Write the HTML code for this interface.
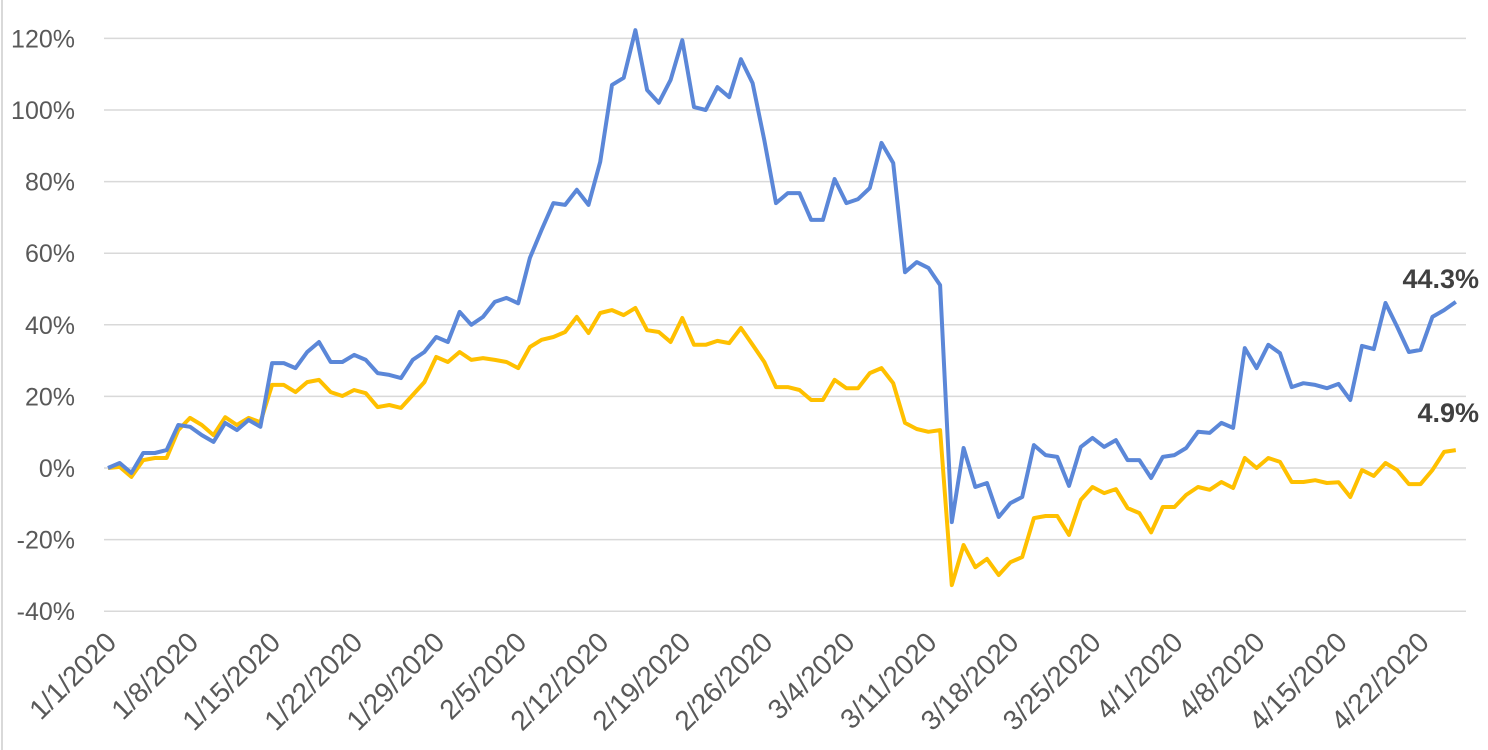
<!DOCTYPE html>
<html><head><meta charset="utf-8"><style>
html,body{margin:0;padding:0;background:#fff;}
svg{display:block;font-family:"Liberation Sans",sans-serif;}
</style></head><body>
<svg id="chart" width="1488" height="750" viewBox="0 0 1488 750">
<line x1="2" y1="0" x2="2" y2="750" stroke="#d9d9d9" stroke-width="2"/>
<g id="grid"></g>
<g id="yticks"></g>
<g id="xticks"></g>
<g id="series"></g>
<g id="endlabels"></g>
</svg>
<script>
const yTicks = [-40,-20,0,20,40,60,80,100,120];
const xTickLabels = ["1/1/2020","1/8/2020","1/15/2020","1/22/2020","1/29/2020","2/5/2020","2/12/2020","2/19/2020","2/26/2020","3/4/2020","3/11/2020","3/18/2020","3/25/2020","4/1/2020","4/8/2020","4/15/2020","4/22/2020"];
const blueValues = [0,1.4,-1.4,4.2,4.2,5,12,11.5,9.2,7.3,12.6,10.6,13.4,11.5,29.3,29.3,27.9,32.4,35.2,29.6,29.6,31.6,30.2,26.5,26,25.1,30.2,32.4,36.6,35.2,43.6,40,42.2,46.4,47.5,46,58.7,66.5,74,73.5,77.7,73.5,85.5,107,109,122.3,105.6,102,108.4,119.5,100.8,100,106.4,103.6,114.2,107.5,91.6,74,76.8,76.8,69.3,69.3,80.7,74,75.1,78.2,90.8,85.2,54.7,57.5,55.9,51.1,-15.1,5.6,-5.3,-4.2,-13.7,-9.8,-8.1,6.4,3.6,3.1,-5,5.9,8.4,5.9,7.8,2.2,2.2,-2.8,3.1,3.6,5.6,10.1,9.8,12.6,11.2,33.5,27.9,34.4,32.1,22.6,23.7,23.2,22.3,23.5,19,34.1,33.2,46.1,39.4,32.4,33,42.2,44.1,46.4];
const yellowValues = [0,0.3,-2.5,2.2,2.8,2.8,10.6,14,12,9.2,14.2,12,14,12.8,23.2,23.2,21.2,24,24.6,21.2,20.1,21.8,20.9,17,17.6,16.8,20.4,24,31,29.6,32.4,30.2,30.7,30.2,29.6,27.9,33.8,35.8,36.6,38,42.2,37.7,43.3,44.1,42.7,44.7,38.5,38,35.2,41.9,34.4,34.4,35.5,34.9,39.1,34.4,29.6,22.6,22.6,21.8,19,19,24.6,22.3,22.3,26.5,27.9,23.7,12.6,10.9,10.1,10.6,-32.7,-21.5,-27.7,-25.4,-29.9,-26.3,-24.9,-14,-13.4,-13.4,-18.7,-8.9,-5.3,-7,-5.9,-11.2,-12.6,-18,-10.9,-10.9,-7.5,-5.3,-6.1,-3.9,-5.6,2.8,0,2.8,1.7,-3.9,-3.9,-3.4,-4.2,-4,-8.1,-0.6,-2.2,1.4,-0.6,-4.5,-4.5,-0.6,4.5,5];
const endLabels = ["44.3%","4.9%"];

const NS="http://www.w3.org/2000/svg";
const x0=108, dx=11.72, yZero=468, pxPer=3.58;
const X=i=>x0+dx*i;
const Y=v=>yZero-v*pxPer;
function mk(tag,parent){const e=document.createElementNS(NS,tag);parent.appendChild(e);return e;}

const grid=document.getElementById('grid'), yt=document.getElementById('yticks');
yTicks.forEach(v=>{
  const l=mk('line',grid);
  
  
  l.setAttribute('x1',104);l.setAttribute('x2',1466);l.setAttribute('y1',Y(v));l.setAttribute('y2',Y(v));
  l.setAttribute('stroke','#d9d9d9');l.setAttribute('stroke-width','1.5');
  const t=mk('text',yt);
  
  
  t.setAttribute('x',75);t.setAttribute('y',Y(v)+9);t.setAttribute('text-anchor','end');
  t.setAttribute('font-size','25');t.setAttribute('fill','#595959');
  t.textContent=v+'%';
});
const xt=document.getElementById('xticks');
xTickLabels.forEach((s,k)=>{
  const x=X(k*7)+10, y=644;
  const t=mk('text',xt);
  
  
  t.setAttribute('x',x);t.setAttribute('y',y);t.setAttribute('text-anchor','end');
  t.setAttribute('font-size','28');t.setAttribute('fill','#595959');
  t.setAttribute('transform','rotate(-45 '+x+' '+y+')');
  t.textContent=s;
});
const ser=document.getElementById('series');
function drawLine(vals,color,name){
  const p=mk('polyline',ser);
  
  
  p.setAttribute('points',vals.map((v,i)=>X(i).toFixed(1)+','+Y(v).toFixed(1)).join(' '));
  p.setAttribute('fill','none');p.setAttribute('stroke',color);p.setAttribute('stroke-width','4');
  p.setAttribute('stroke-linejoin','round');
}
drawLine(yellowValues,'#ffc000','yellow-series-line');
drawLine(blueValues,'#5b87d8','blue-series-line');
const el=document.getElementById('endlabels');
[[endLabels[0],288],[endLabels[1],422]].forEach(([s,y])=>{
  const t=mk('text',el);
  
  
  t.setAttribute('x',1479);t.setAttribute('y',y);t.setAttribute('text-anchor','end');
  t.setAttribute('font-size','27');t.setAttribute('font-weight','bold');t.setAttribute('fill','#404040');
  t.textContent=s;
});
</script>
</body></html>
